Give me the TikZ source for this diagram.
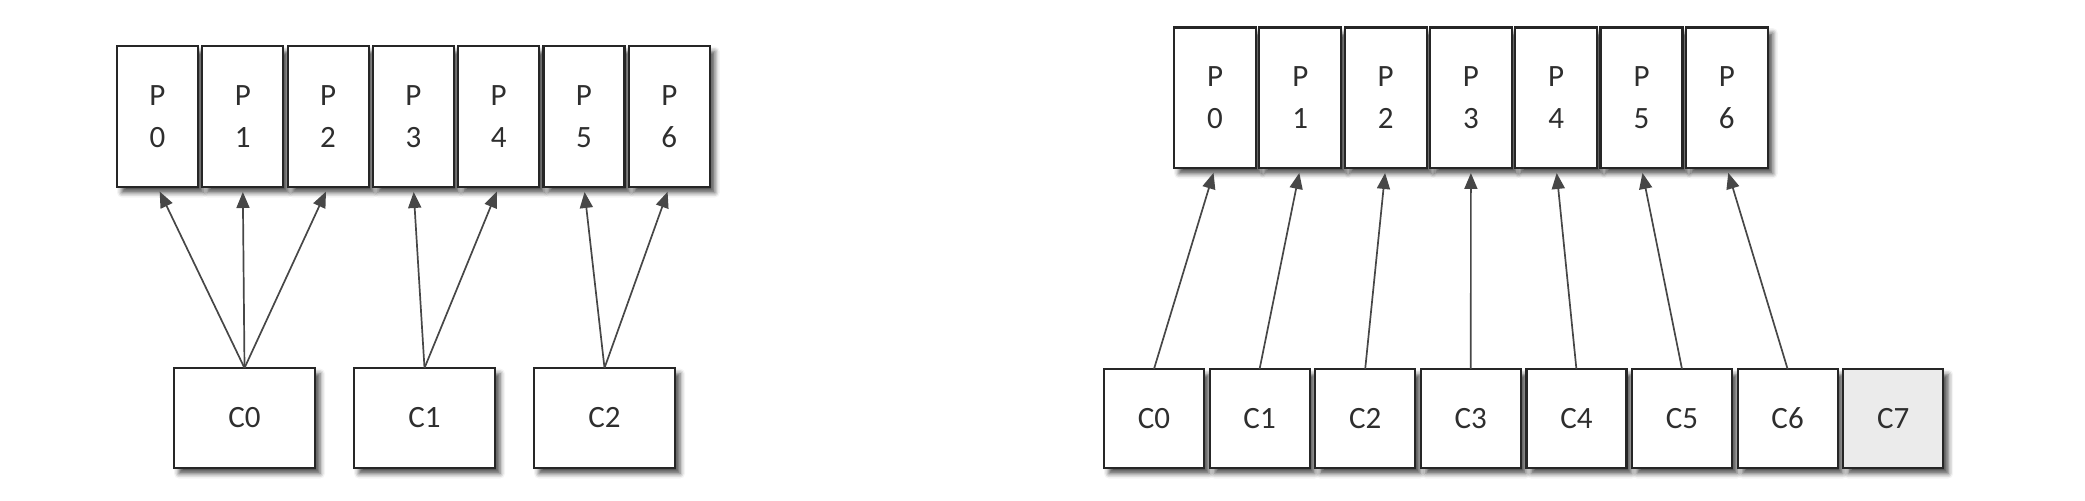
\documentclass[tikz,border=0pt]{standalone}
\usepackage{fontspec}
\setmainfont{Carlito}
\usetikzlibrary{arrows.meta,shadows.blur}
\begin{document}
\begin{tikzpicture}[x=0.5pt,y=-0.5pt,
  box/.style={draw=black!85,line width=1.1pt,fill=white,inner sep=0pt,outer sep=0pt,
    font=\fontsize{15.5}{21}\selectfont,text=black!82,align=center,
    blur shadow={shadow xshift=2.5pt,shadow yshift=-2.8pt,shadow blur radius=2.5pt,shadow opacity=70}},
  lp/.style={box,minimum width=40.5pt,minimum height=70.5pt},
  rp/.style={box,minimum width=41pt,minimum height=70.25pt},
  lc/.style={box,minimum width=70.5pt,minimum height=50pt},
  rc/.style={box,minimum width=50pt,minimum height=49.5pt},
  conn/.style={draw=black!72,line width=0.85pt,shorten >=2.5pt,-{Triangle[length=8pt,width=6.5pt]}}
]
\useasboundingbox (0,0) rectangle (2085,501);
% left diagram
\foreach \i in {0,...,6}{
  \node[lp] (LP\i) at ({157.5+85.3*\i},116.5) {P\\\i};
}
\node[lc] (LC0) at (244.5,418) {C0};
\node[lc] (LC1) at (424.5,418) {C1};
\node[lc] (LC2) at (604.5,418) {C2};
\draw[conn] (LC0.north) -- (LP0.south);
\draw[conn] (LC0.north) -- (LP1.south);
\draw[conn] (LC0.north) -- (LP2.south);
\draw[conn] (LC1.north) -- (LP3.south);
\draw[conn] (LC1.north) -- (LP4.south);
\draw[conn] (LC2.north) -- (LP5.south);
\draw[conn] (LC2.north) -- (LP6.south);
% right diagram
\foreach \i in {0,...,6}{
  \node[rp] (RP\i) at ({1215+85.3*\i},97.75) {P\\\i};
}
\foreach \i in {0,...,6}{
  \node[rc] (RC\i) at ({1154+105.6*\i},418.5) {C\i};
}
\node[rc,fill=black!8] (RC7) at ({1154+105.6*7},418.5) {C7};
\foreach \i in {0,...,6}{
  \draw[conn] (RC\i.north) -- (RP\i.south);
}
\end{tikzpicture}
\end{document}
